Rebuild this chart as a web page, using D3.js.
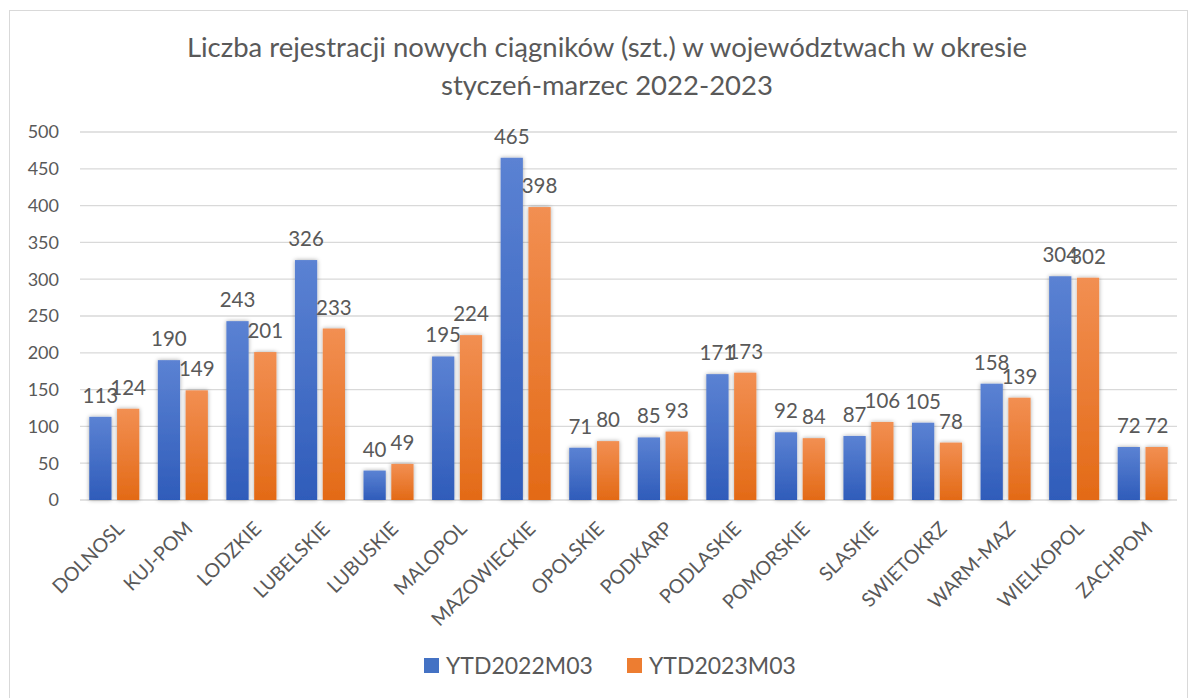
<!DOCTYPE html>
<html>
<head>
<meta charset="utf-8">
<script src="https://cdn.jsdelivr.net/npm/d3@7"></script>
<style>
  body { margin: 0; background: #fff; }
  text { font-family: Lato, "Open Sans", sans-serif; fill: #595959; }
</style>
</head>
<body>
<svg id="chart" width="1192" height="698"></svg>
<script>
var categories = ['DOLNOSL', 'KUJ-POM', 'LODZKIE', 'LUBELSKIE', 'LUBUSKIE', 'MALOPOL', 'MAZOWIECKIE',
  'OPOLSKIE', 'PODKARP', 'PODLASKIE', 'POMORSKIE', 'SLASKIE', 'SWIETOKRZ', 'WARM-MAZ', 'WIELKOPOL', 'ZACHPOM'];
var ytd2022 = [113, 190, 243, 326, 40, 195, 465, 71, 85, 171, 92, 87, 105, 158, 304, 72];
var ytd2023 = [124, 149, 201, 233, 49, 224, 398, 80, 93, 173, 84, 106, 78, 139, 302, 72];
var seriesNames = ['YTD2022M03', 'YTD2023M03'];
var yTicks = [0, 50, 100, 150, 200, 250, 300, 350, 400, 450, 500];

var svg = d3.select('#chart');
var margin = {left: 80, right: 15, top: 132, bottom: 198};
var width = 1192 - margin.left - margin.right,
  height = 698 - margin.top - margin.bottom;

// frame
svg.append('rect')
  .attr('x', 9.5).attr('y', 10.5)
  .attr('width', 1178).attr('height', 690)
  .attr('fill', 'none').attr('stroke', '#d9d9d9').attr('stroke-width', 1);

var defs = svg.append('defs');
var grads = [['gBlue', '#5b82d3', '#2f5cba'], ['gOrange', '#f28f52', '#e36a16']];
grads.forEach(function(g) {
  var lg = defs.append('linearGradient').attr('id', g[0])
    .attr('x1', 0).attr('y1', 0).attr('x2', 0).attr('y2', 1);
  lg.append('stop').attr('offset', '0%').attr('stop-color', g[1]);
  lg.append('stop').attr('offset', '100%').attr('stop-color', g[2]);
});
var f = defs.append('filter').attr('id', 'shadow')
  .attr('x', '-30%').attr('y', '-10%').attr('width', '160%').attr('height', '120%');
f.append('feDropShadow').attr('dx', 0).attr('dy', 0).attr('stdDeviation', 2.2)
  .attr('flood-color', '#000').attr('flood-opacity', 0.35);

var title = svg.append('text')
  .attr('text-anchor', 'middle')
  .style('font-size', '27.5px');
title.append('tspan').attr('x', 607).attr('y', 57)
  .text('Liczba rejestracji nowych ciągników (szt.) w województwach w okresie');
title.append('tspan').attr('x', 607).attr('y', 95)
  .text('styczeń-marzec 2022-2023');

var g = svg.append('g').attr('transform', 'translate(' + margin.left + ',' + margin.top + ')');

var x = d3.scaleBand().domain(categories).range([0, width]).paddingInner(0.27).paddingOuter(0.135);
var xs = d3.scaleBand().domain([0, 1]).range([0, x.bandwidth()]).paddingInner(0.2);
var y = d3.scaleLinear().domain([0, 500]).range([height, 0]);

// gridlines
g.selectAll('line.grid')
  .data(yTicks)
  .enter()
  .append('line')
  .classed('grid', true)
  .attr('x1', 0).attr('x2', width)
  .attr('y1', function(d) { return y(d); })
  .attr('y2', function(d) { return y(d); })
  .attr('stroke', '#d9d9d9').attr('stroke-width', 1.3);

// y tick labels
g.selectAll('text.ytick')
  .data(yTicks)
  .enter()
  .append('text')
  .classed('ytick', true)
  .attr('x', -21)
  .attr('y', function(d) { return y(d); })
  .attr('dy', '0.35em')
  .attr('text-anchor', 'end')
  .style('font-size', '18px')
  .text(function(d) { return d; });

var series = [ytd2022, ytd2023];
var fills = ['url(#gBlue)', 'url(#gOrange)'];

series.forEach(function(vals, si) {
  var rows = categories.map(function(c, i) { return {c: c, v: vals[i]}; });
  g.selectAll('rect.s' + si)
    .data(rows)
    .enter()
    .append('rect')
    .attr('class', 's' + si)
    .attr('x', function(d) { return x(d.c) + xs(si); })
    .attr('y', function(d) { return y(d.v); })
    .attr('width', xs.bandwidth())
    .attr('height', function(d) { return height - y(d.v); })
    .attr('fill', fills[si])
    .attr('filter', 'url(#shadow)');

  g.selectAll('text.l' + si)
    .data(rows)
    .enter()
    .append('text')
    .attr('class', 'l' + si)
    .attr('x', function(d) { return x(d.c) + xs(si) + xs.bandwidth() / 2; })
    .attr('y', function(d) { return y(d.v) - 14; })
    .attr('text-anchor', 'middle')
    .style('font-size', '20.5px')
    .text(function(d) { return d.v; });
});

// x axis labels
g.selectAll('text.xlab')
  .data(categories)
  .enter()
  .append('text')
  .classed('xlab', true)
  .attr('text-anchor', 'end')
  .attr('transform', function(d) {
    return 'translate(' + (x(d) + x.bandwidth() / 2 + 11) + ',' + (height + 30) + ') rotate(-45)';
  })
  .style('font-size', '19.5px')
  .text(function(d) { return d; });

// legend
var legend = svg.append('g');
var legX = [424, 627];
seriesNames.forEach(function(n, i) {
  legend.append('rect')
    .attr('x', legX[i]).attr('y', 658)
    .attr('width', 15).attr('height', 15)
    .attr('fill', i === 0 ? '#4472c4' : '#ed7d31');
  legend.append('text')
    .attr('x', legX[i] + 22).attr('y', 674)
    .style('font-size', '23px')
    .text(n);
});
</script>
</body>
</html>
